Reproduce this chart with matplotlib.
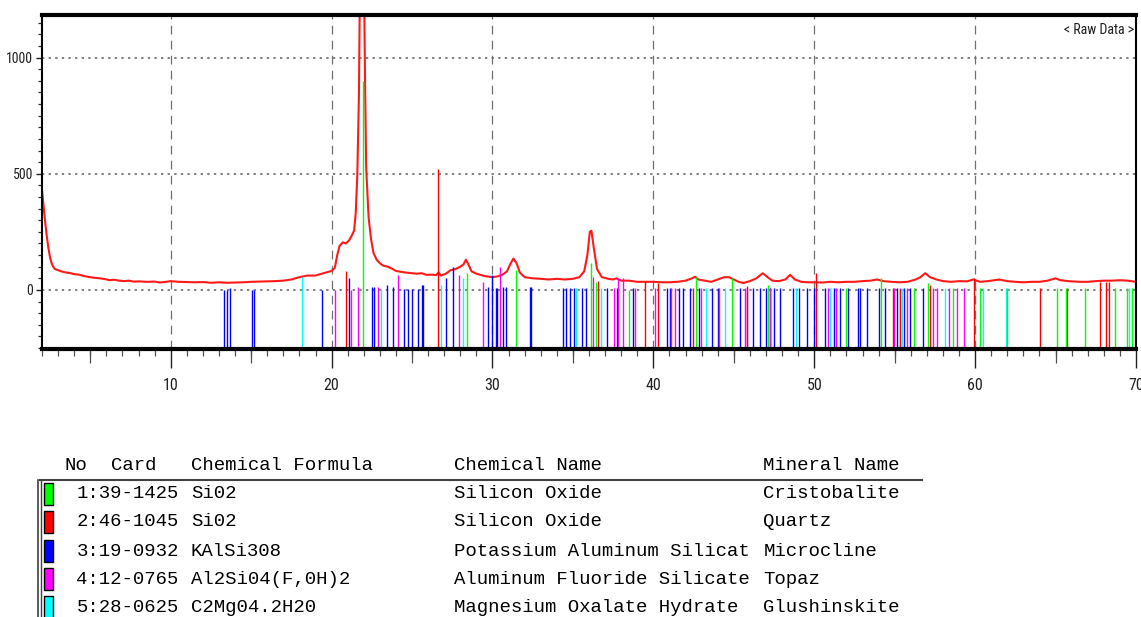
import matplotlib
matplotlib.use("Agg")
import matplotlib.pyplot as plt
from matplotlib.ticker import MultipleLocator, FixedLocator
from matplotlib.patches import Rectangle
from matplotlib.lines import Line2D
from matplotlib import font_manager

W, H, DPI = 1141, 617, 100

# ---------------- raw diffraction pattern ----------------
raw_2theta = [2.0, 2.1, 2.2, 2.3, 2.4, 2.5, 2.6, 2.7, 2.8, 3.0, 3.2, 3.5, 3.8, 4.0, 4.3, 4.6,
              5.0, 5.3, 5.6, 5.9, 6.2, 6.5, 6.8, 7.1, 7.4, 7.7, 8.0, 8.5, 9.0, 9.3, 9.6, 10.0,
              10.5, 11.0, 11.5, 12.0, 12.5, 13.0, 13.5, 14.0, 14.5, 15.0, 15.5, 16.0, 16.5,
              17.0, 17.5, 18.0, 18.5, 19.0, 19.5, 19.8, 20.0, 20.2, 20.35, 20.5, 20.7, 20.9,
              21.1, 21.3, 21.4, 21.5, 21.6, 21.7, 21.76, 21.85, 21.95, 22.02, 22.08, 22.15,
              22.3, 22.45, 22.6, 22.8, 23.0, 23.2, 23.5, 23.8, 24.0, 24.3, 24.6, 25.0, 25.3,
              25.6, 25.9, 26.2, 26.5, 26.65, 26.8, 27.1, 27.4, 27.7, 28.0, 28.2, 28.35, 28.5,
              28.7, 29.0, 29.5, 30.0, 30.3, 30.6, 30.9, 31.1, 31.3, 31.5, 31.7, 32.0, 32.5,
              33.0, 33.5, 34.0, 34.5, 35.0, 35.4, 35.7, 35.9, 36.05, 36.15, 36.3, 36.5, 36.8,
              37.2, 37.5, 37.7, 38.0, 38.5, 39.0, 39.5, 40.0, 40.5, 41.0, 41.5, 42.0, 42.4,
              42.6, 42.8, 43.2, 43.6, 44.0, 44.4, 44.7, 45.0, 45.3, 45.6, 46.0, 46.4, 46.8,
              47.1, 47.4, 47.8, 48.2, 48.5, 48.8, 49.2, 49.6, 50.0, 50.5, 51.0, 51.5, 52.0,
              52.5, 53.0, 53.5, 53.9, 54.3, 54.8, 55.3, 55.8, 56.3, 56.6, 56.9, 57.2, 57.6,
              58.0, 58.5, 59.0, 59.5, 59.9, 60.3, 60.8, 61.2, 61.5, 62.0, 62.5, 63.0, 63.5,
              64.0, 64.5, 65.0, 65.3, 65.8, 66.5, 67.0, 67.5, 68.0, 68.5, 69.0, 69.5, 70.0]
raw_counts = [430, 360, 290, 230, 180, 140, 115, 100, 90, 85, 80, 75, 72, 68, 66, 60,
              55, 52, 50, 47, 42, 44, 40, 38, 40, 36, 37, 35, 36, 32, 34, 38,
              35, 34, 33, 34, 31, 33, 31, 32, 33, 35, 36, 37, 38,
              40, 45, 55, 62, 62, 72, 78, 82, 95, 150, 190, 205, 200,
              215, 240, 256, 330, 498, 840, 1300, 1500, 1500, 1300, 900, 527,
              313, 220, 160, 130, 115, 105, 100, 90, 82, 78, 75, 72, 70,
              72, 65, 66, 64, 75, 62, 70, 85, 90, 100, 110, 130, 110,
              80, 70, 60, 55, 58, 65, 80, 110, 135, 115, 75, 55, 50,
              48, 45, 48, 45, 48, 55, 80, 150, 250, 255, 180, 90, 55,
              48, 45, 50, 40, 40, 35, 35, 35, 33, 33, 35, 40, 50,
              57, 45, 40, 35, 45, 55, 55, 45, 35, 30, 38, 50, 72,
              55, 40, 38, 45, 65, 45, 35, 33, 33, 32, 35, 33, 35,
              35, 38, 40, 45, 38, 35, 33, 35, 45, 55, 72, 55, 45,
              38, 35, 38, 37, 45, 35, 38, 42, 45, 38, 35, 33, 35,
              35, 40, 50, 42, 38, 35, 35, 38, 40, 40, 42, 40, 35]

# ---------------- reference card sticks (positions, top intensities) ----------
cristobalite_pos = [21.98, 28.44, 31.46, 36.11, 36.44, 38.47, 42.67, 44.86, 47.10, 51.99,
                    54.16, 56.21, 57.10, 58.65, 60.31, 62.01, 65.11, 65.65, 66.83, 68.70,
                    69.42, 69.77]
cristobalite_top = [900, 72, 85, 115, 36, 0, 57, 50, 20, 10,
                    50, 10, 28, 10, 10, 10, 10, 10, 10, 10,
                    10, 10]

quartz_pos = [20.87, 26.64, 36.56, 39.47, 40.29, 42.46, 45.79, 50.14, 54.87, 55.32,
              57.20, 59.96, 64.04, 65.73, 67.74, 68.14, 68.30]
quartz_top = [82, 520, 40, 40, 30, 10, 15, 74, 10, 5,
              20, 50, 8, 10, 35, 35, 35]

microcline_pos = [13.31, 13.52, 13.68, 15.03, 15.17, 19.40, 21.06, 22.53, 22.63, 23.44,
                  23.79, 24.53, 24.76, 24.97, 25.36, 25.63, 25.70, 27.12, 27.56, 29.73,
                  29.94, 30.19, 30.29, 30.66, 30.85, 32.32, 32.42, 34.39, 34.58, 34.84,
                  35.05, 35.59, 35.84, 37.12, 37.72, 38.72, 40.85, 41.06, 41.57, 41.84,
                  42.30, 42.81, 43.65, 44.00, 45.40, 46.17, 46.65, 47.02, 47.23, 47.52,
                  47.89, 48.65, 49.07, 49.55, 49.96, 50.64, 51.24, 51.61, 52.07, 52.69,
                  52.86, 53.31, 54.02, 54.41, 55.14, 55.61, 55.96, 56.75]
microcline_top = [0, 0, 10, 0, 0, 0, 50, 14, 14, 21,
                  14, 5, 5, 5, 5, 21, 21, 50, 100, 14,
                  64, 10, 10, 14, 14, 14, 14, 10, 10, 10,
                  10, 10, 10, 10, 10, 10, 10, 10, 10, 10,
                  10, 10, 10, 10, 10, 10, 10, 10, 10, 10,
                  10, 10, 10, 10, 10, 10, 10, 10, 10, 10,
                  10, 10, 10, 10, 10, 10, 10, 10]

topaz_pos = [20.21, 21.22, 21.66, 22.90, 24.12, 27.95, 29.42, 30.45, 36.25, 37.54,
             37.83, 38.12, 38.88, 40.08, 41.10, 41.37, 42.96, 44.06, 45.71, 45.82,
             47.27, 50.85, 51.37, 54.93, 55.30, 55.76, 57.41, 57.62, 58.40, 58.86,
             59.32]
topaz_top = [0, 0, 14, 14, 64, 64, 36, 100, 57, 10,
             50, 50, 10, 10, 10, 10, 10, 10, 10, 10,
             10, 10, 10, 10, 10, 10, 10, 10, 10, 10,
             10]

glushinskite_pos = [18.14, 23.10, 26.81, 28.16, 35.22, 36.75, 43.29, 44.47, 48.84, 50.95,
                    55.45, 58.15, 60.48, 61.93, 69.58]
glushinskite_top = [57, 0, 21, 50, 10, 10, 10, 10, 10, 10,
                    10, 10, 10, 10, 10]

# ---------------- card table ----------------
card_no = ["1", "2", "3", "4", "5"]
card_id = ["39-1425", "46-1045", "19-0932", "12-0765", "28-0625"]
card_formula = ["Si02", "Si02", "KAlSi308", "Al2Si04(F,0H)2", "C2Mg04.2H20"]
card_chem = ["Silicon Oxide", "Silicon Oxide", "Potassium Aluminum Silicat",
             "Aluminum Fluoride Silicate", "Magnesium Oxalate Hydrate"]
card_mineral = ["Cristobalite", "Quartz", "Microcline", "Topaz", "Glushinskite"]
card_colors = ["#00ff00", "#ff0000", "#0000ff", "#ff00ff", "#00ffff"]

x_major = [10, 20, 30, 40, 50, 60, 70]
y_major = [0, 500, 1000]

# ---------------- fonts ----------------
ttf = font_manager.fontManager.ttflist
avail = {f.name for f in ttf}
narrow_family = None
narrow_stretch = "normal"
for cand in ["Liberation Sans Narrow", "Roboto Condensed", "Open Sans Condensed"]:
    if cand in avail:
        narrow_family = cand
        break
if narrow_family is None:
    narrow_family = "DejaVu Sans"
    if any(f.name == "DejaVu Sans" and str(f.stretch) in ("condensed", "semi-condensed") for f in ttf):
        narrow_stretch = "condensed"
mono = [f for f in ["Liberation Mono", "DejaVu Sans Mono"] if f in avail] or ["monospace"]

fig = plt.figure(figsize=(W / DPI, H / DPI), dpi=DPI)


def fx(x):
    return x / W


def fy(y):
    return 1 - y / H


ax = fig.add_axes([fx(42), fy(349), (1136 - 42) / W, (349 - 15) / H])
ax.set_xlim(2.0, 70.0)
ax.set_ylim(-254, 1183)

# grid
for v in y_major:
    ax.axhline(v, color="#808080", lw=1.4, ls=(0, (1.2, 2.2)), zorder=1)
for v in x_major[:-1]:
    ax.axvline(v, color="#707070", lw=0.9, ls=(0, (7, 5)), zorder=1)

# raw data
ax.plot(raw_2theta, raw_counts, color="#ff1a1a", lw=1.5, zorder=2)

# sticks
ybot = ax.get_ylim()[0]
phases = [(microcline_pos, microcline_top, card_colors[2]),
          (topaz_pos, topaz_top, card_colors[3]),
          (glushinskite_pos, glushinskite_top, card_colors[4]),
          (quartz_pos, quartz_top, card_colors[1]),
          (cristobalite_pos, cristobalite_top, card_colors[0])]
for pos, top, col in phases:
    ax.vlines(pos, ybot, top, colors=col, lw=1.0, zorder=3)

# spines
for s in ["top", "bottom"]:
    ax.spines[s].set_linewidth(3.0)
    ax.spines[s].set_color("black")
for s in ["left", "right"]:
    ax.spines[s].set_linewidth(1.5)
    ax.spines[s].set_color("black")
for s in ax.spines.values():
    s.set_zorder(5)

# ticks
ax.xaxis.set_major_locator(FixedLocator(x_major))
ax.xaxis.set_minor_locator(MultipleLocator(1))
ax.yaxis.set_major_locator(FixedLocator(y_major))
ax.yaxis.set_minor_locator(MultipleLocator(50))
ax.tick_params(axis="x", which="major", direction="out", length=14, width=1.0,
               color="#202020", pad=7, labelsize=11.5)
ax.tick_params(axis="x", which="minor", direction="out", length=5, width=0.9, color="#505050")
ax.tick_params(axis="y", which="major", direction="out", length=4.5, width=1.0,
               color="#202020", pad=2, labelsize=10)
ax.tick_params(axis="y", which="minor", direction="out", length=3, width=0.9, color="#303030")
for lab in ax.get_xticklabels() + ax.get_yticklabels():
    lab.set_family(narrow_family)
    lab.set_stretch(narrow_stretch)
    lab.set_color("#202020")

sec = ax.secondary_xaxis("bottom")
sec.xaxis.set_major_locator(FixedLocator([5, 15, 25, 35, 45, 55, 65]))
sec.tick_params(axis="x", direction="out", length=10, width=0.9, color="#505050", labelbottom=False)
sec.spines["bottom"].set_visible(False)

ax.text(0.9985, 0.955, "< Raw Data >", transform=ax.transAxes, ha="right", va="center",
        fontsize=10, family=narrow_family, fontstretch=narrow_stretch, color="#202020")

# ---------------- table ----------------
row_y = [494, 522, 551, 579, 607]
char_w = 11.45
fs = 13.7
header_y = 465
fig.text(fx(65), fy(header_y), "No", family=mono, fontsize=fs, va="center", ha="left")
fig.text(fx(65 + 4 * char_w), fy(header_y), "Card", family=mono, fontsize=fs, va="center", ha="left")
fig.text(fx(65 + 11 * char_w), fy(header_y), "Chemical Formula", family=mono, fontsize=fs, va="center", ha="left")
fig.text(fx(65 + 34 * char_w), fy(header_y), "Chemical Name", family=mono, fontsize=fs, va="center", ha="left")
fig.text(fx(65 + 61 * char_w), fy(header_y), "Mineral Name", family=mono, fontsize=fs, va="center", ha="left")

fig.add_artist(Line2D([fx(40), fx(922)], [fy(480), fy(480)], transform=fig.transFigure,
                      color="#404040", lw=1.5))
fig.add_artist(Line2D([fx(38), fx(38)], [fy(480), fy(617)], transform=fig.transFigure,
                      color="#404040", lw=1.2))
fig.add_artist(Line2D([fx(41), fx(41)], [fy(480), fy(617)], transform=fig.transFigure,
                      color="#404040", lw=1.0))

for i in range(len(card_no)):
    y = row_y[i]
    fig.add_artist(Rectangle((fx(44), fy(y + 11)), 9 / W, 22 / H, transform=fig.transFigure,
                             facecolor=card_colors[i], edgecolor="black", lw=1.0))
    fig.text(fx(65 + 1 * char_w), fy(y), f"{card_no[i]}:{card_id[i]}", family=mono, fontsize=fs,
             va="center", ha="left")
    fig.text(fx(65 + 11 * char_w), fy(y), card_formula[i], family=mono, fontsize=fs, va="center", ha="left")
    fig.text(fx(65 + 34 * char_w), fy(y), card_chem[i], family=mono, fontsize=fs, va="center", ha="left")
    fig.text(fx(65 + 61 * char_w), fy(y), card_mineral[i], family=mono, fontsize=fs, va="center", ha="left")

fig.savefig("out.png", dpi=DPI)
